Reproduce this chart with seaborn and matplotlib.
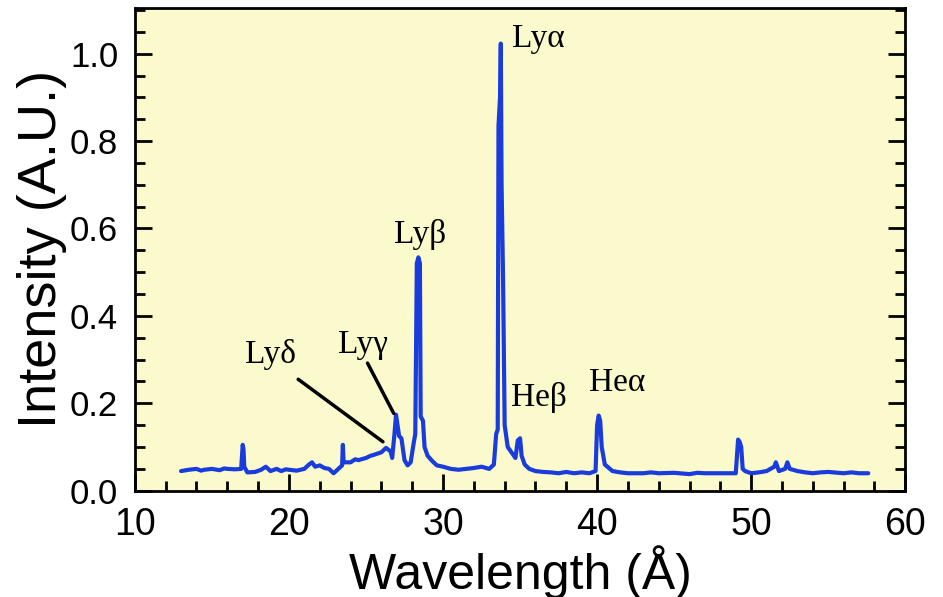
import numpy as np
import pandas as pd
import seaborn as sns
import matplotlib
matplotlib.use("Agg")
import matplotlib.pyplot as plt
from matplotlib.ticker import MultipleLocator

wavelength = [13.0, 13.5, 14.0, 14.3, 14.5, 15.0, 15.5, 15.8, 16.0, 16.5, 16.9, 17.0, 17.05, 17.1, 17.3, 17.8,
              18.2, 18.5, 18.8, 19.2, 19.5, 19.8, 20.0, 20.5, 21.0, 21.3, 21.5, 21.7, 22.0, 22.3, 22.6,
              22.9, 23.2, 23.45, 23.5, 23.55, 24.0, 24.3, 24.5, 25.0, 25.3, 25.5, 26.0, 26.3, 26.6, 26.7,
              26.85, 26.95, 27.05, 27.15, 27.3, 27.5, 27.7, 27.9, 28.1, 28.2, 28.3, 28.4, 28.5,
              28.55, 28.7, 28.8, 29.0, 29.3, 29.6, 30.0, 30.5, 31.0, 31.5, 32.0, 32.5, 33.0,
              33.3, 33.45, 33.55, 33.6, 33.7, 33.75, 33.8, 33.9, 34.0, 34.2, 34.5, 34.7, 34.85,
              35.0, 35.1, 35.3, 35.6, 36.0, 36.5, 37.0, 37.5, 38.0, 38.5, 39.0, 39.5, 39.9, 40.0, 40.1, 40.2,
              40.3, 40.5, 41.0, 41.5, 42.0, 43.0, 43.5, 44.0, 45.0, 46.0, 46.5, 47.0, 48.0, 49.0, 49.15, 49.25,
              49.35, 49.45, 49.6, 50.0, 50.5, 51.0, 51.5, 51.6, 51.8, 52.2, 52.35, 52.5, 53.0,
              53.5, 54.0, 54.5, 55.0, 56.0, 56.5, 57.0, 57.6]
intensity = [0.045, 0.048, 0.050, 0.046, 0.048, 0.050, 0.047, 0.051, 0.050, 0.049, 0.050, 0.105, 0.095, 0.055, 0.042, 0.043,
             0.048, 0.055, 0.045, 0.050, 0.045, 0.049, 0.048, 0.046, 0.050, 0.060, 0.065, 0.055, 0.058, 0.052, 0.050,
             0.040, 0.050, 0.058, 0.105, 0.065, 0.065, 0.072, 0.070, 0.075, 0.080, 0.082, 0.088, 0.098, 0.090, 0.075,
             0.130, 0.174, 0.150, 0.125, 0.120, 0.070, 0.058, 0.065, 0.110, 0.130, 0.520, 0.534, 0.520,
             0.170, 0.160, 0.100, 0.080, 0.068, 0.058, 0.055, 0.050, 0.048, 0.050, 0.052, 0.055, 0.050,
             0.060, 0.130, 0.140, 0.835, 0.900, 1.023, 0.700, 0.477, 0.150, 0.100, 0.085, 0.075, 0.115,
             0.120, 0.080, 0.060, 0.050, 0.045, 0.043, 0.042, 0.040, 0.043, 0.040, 0.042, 0.040, 0.045, 0.150, 0.172, 0.160,
             0.100, 0.060, 0.045, 0.042, 0.040, 0.040, 0.042, 0.040, 0.041, 0.038, 0.041, 0.040, 0.040, 0.040, 0.117, 0.112,
             0.100, 0.050, 0.045, 0.040, 0.042, 0.045, 0.055, 0.065, 0.045, 0.050, 0.065, 0.050, 0.045,
             0.042, 0.040, 0.042, 0.043, 0.040, 0.042, 0.040, 0.040]

line_labels = ["Ly\u03b1", "Ly\u03b2", "Ly\u03b3", "Ly\u03b4", "He\u03b2", "He\u03b1"]
label_x = [36.2, 28.5, 24.8, 18.8, 36.2, 41.3]
label_y = [1.034, 0.587, 0.335, 0.312, 0.213, 0.248]

sns.set_theme(style="ticks")
plt.rcParams['font.family'] = ['Liberation Sans', 'DejaVu Sans']
plt.rcParams['text.color'] = 'black'
plt.rcParams['axes.labelcolor'] = 'black'
plt.rcParams['xtick.color'] = 'black'
plt.rcParams['ytick.color'] = 'black'

df = pd.DataFrame({"wavelength": wavelength, "intensity": intensity})

fig = plt.figure(figsize=(9.43, 5.97), dpi=100)
ax = fig.add_axes([0.143, 0.178, 0.817, 0.809])
ax.set_facecolor("#FAFACD")
sns.lineplot(data=df, x="wavelength", y="intensity", ax=ax, color="#1A3CDC", lw=3,
             estimator=None, sort=False)

ax.set_xlim(10, 60)
ax.set_ylim(0, 1.105)
ax.xaxis.set_major_locator(MultipleLocator(10))
ax.xaxis.set_minor_locator(MultipleLocator(2))
ax.yaxis.set_major_locator(MultipleLocator(0.2))
ax.yaxis.set_minor_locator(MultipleLocator(0.05))
ax.tick_params(which="both", direction="in", width=2, color="black", labelcolor="black",
               bottom=True, left=True, right=True, top=False)
ax.tick_params(which="major", length=12)
ax.tick_params(which="minor", length=7)
ax.tick_params(axis="x", which="major", pad=12)
ax.tick_params(axis="y", which="major", pad=12)
ax.set_yticks([0, 0.2, 0.4, 0.6, 0.8, 1.0])
ax.set_yticklabels(["0.0", "0.2", "0.4", "0.6", "0.8", "1.0"], fontsize=25, family="Liberation Sans")
ax.set_xticks([10, 20, 30, 40, 50, 60])
ax.set_xticklabels(["10", "20", "30", "40", "50", "60"], fontsize=27, family="Liberation Sans")
for sp in ax.spines.values():
    sp.set_linewidth(2)
    sp.set_color("black")

ax.set_xlabel("Wavelength (\u00c5)", fontsize=36, family="Liberation Sans", labelpad=1)
ax.set_ylabel("Intensity (A.U.)", fontsize=39, family="Liberation Sans", labelpad=2)

for lab, x, y in zip(line_labels, label_x, label_y):
    ax.text(x, y, lab, fontsize=24, family=["Liberation Serif", "DejaVu Serif"],
            ha="center", va="center", color="black")

ax.plot([20.6, 26.1], [0.255, 0.112], color="black", lw=2.5)
ax.plot([25.1, 26.8], [0.292, 0.177], color="black", lw=2.5)

fig.savefig("out.png", dpi=100)
